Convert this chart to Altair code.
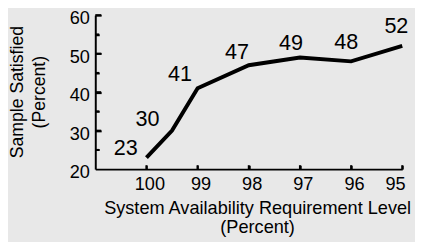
import altair as alt
import pandas as pd

# Data
requirement = [100, 99.5, 99, 98, 97, 96, 95]
satisfied = [23, 30, 41, 47, 49, 48, 52]
x_ticks = [100, 99, 98, 97, 96, 95]
y_labels = [20, 30, 40, 50, 60]
y_major = [30, 40, 50, 60]
y_minor = [25, 35, 45, 55]

df = pd.DataFrame({"req": requirement, "sat": satisfied})
df_major = pd.DataFrame({"yt": y_major})
df_minor = pd.DataFrame({"yt": y_minor})
df_xt = pd.DataFrame({"xt": x_ticks})

W, H = 313, 157
FONT = "Liberation Sans"

xscale = alt.Scale(domain=[95, 101], reverse=True, nice=False, zero=False)
yscale = alt.Scale(domain=[20, 60], nice=False, zero=False)

xaxis = alt.Axis(values=x_ticks, ticks=False, grid=False, domainColor="black", domainWidth=2,
                 labelFontSize=18.5, labelFont=FONT, labelColor="black", labelPadding=6,
                 labelOffset=3,
                 title=["System Availability Requirement Level", "(Percent)"],
                 titleFont=FONT, titleFontSize=18.5, titleFontWeight="normal", titleColor="black",
                 titleLineHeight=20, titleX=165, titleY=45, titleBaseline="alphabetic")
yaxis = alt.Axis(values=y_labels, ticks=False, grid=False, domainColor="black", domainWidth=2,
                 labelFontSize=18.5, labelFont=FONT, labelColor="black", labelPadding=6,
                 labelOffset=3,
                 title=["Sample Satisfied", "(Percent)"],
                 titleFont=FONT, titleFontSize=18, titleFontWeight="normal", titleColor="black",
                 titleLineHeight=22, titleX=-79, titleY=78, titleBaseline="middle")


def tick_axis(values, orient, size):
    return alt.Axis(values=values, orient=orient, offset=-size, domain=False, labels=False,
                    title=None, grid=False, ticks=True, tickSize=size, tickWidth=2,
                    tickColor="black")


line = alt.Chart(df).mark_line(color="black", strokeWidth=4, strokeJoin="miter", strokeCap="butt").encode(
    x=alt.X("req:Q", scale=xscale, axis=xaxis),
    y=alt.Y("sat:Q", scale=yscale, axis=yaxis),
)

# inward ticks drawn by axes pulled inside the plot
hold_major = alt.Chart(df).mark_point(opacity=0).encode(
    x=alt.X("req:Q", scale=xscale, axis=tick_axis(x_ticks, "bottom", 4)),
    y=alt.Y("sat:Q", scale=yscale, axis=tick_axis(y_major, "left", 6)),
)
hold_minor = alt.Chart(df).mark_point(opacity=0).encode(
    x=alt.X("req:Q", scale=xscale, axis=None),
    y=alt.Y("sat:Q", scale=yscale, axis=tick_axis(y_minor, "left", 4)),
)

# the same ticks as rule marks
rule_major = alt.Chart(df_major).mark_rule(color="black", strokeWidth=2).encode(
    y=alt.Y("yt:Q", scale=yscale, axis=None), x=alt.value(0), x2=alt.value(6),
)
rule_minor = alt.Chart(df_minor).mark_rule(color="black", strokeWidth=2).encode(
    y=alt.Y("yt:Q", scale=yscale, axis=None), x=alt.value(0), x2=alt.value(4),
)
rule_x = alt.Chart(df_xt).mark_rule(color="black", strokeWidth=2).encode(
    x=alt.X("xt:Q", scale=xscale, axis=None), y=alt.value(H), y2=alt.value(H - 4),
)

# label offsets (styling)
offsets = {100: (-21, -10), 99.5: (-25, -12), 99: (-18, -14), 98: (-12, -13),
           97: (-9, -15), 96: (-5, -20), 95: (-6, -20)}
texts = []
for r in requirement:
    dx, dy = offsets[r]
    texts.append(
        alt.Chart(df).transform_filter(alt.datum.req == r).mark_text(
            fontSize=22, font=FONT, color="black", dx=dx, dy=dy, baseline="middle", align="center"
        ).encode(
            x=alt.X("req:Q", scale=xscale, axis=None),
            y=alt.Y("sat:Q", scale=yscale, axis=None),
            text=alt.Text("sat:Q"),
        )
    )

chart = alt.layer(line, hold_major, hold_minor, rule_major, rule_minor, rule_x, *texts).resolve_axis(
    x="independent", y="independent"
).properties(
    width=W, height=H,
    background="#e8e8e8",
    padding={"left": 89, "top": 5, "right": 13, "bottom": 72},
    autosize=alt.AutoSizeParams(type="none"),
).configure_view(stroke=None)

chart.save("out.html", embed_options={"renderer": "svg", "actions": False})
